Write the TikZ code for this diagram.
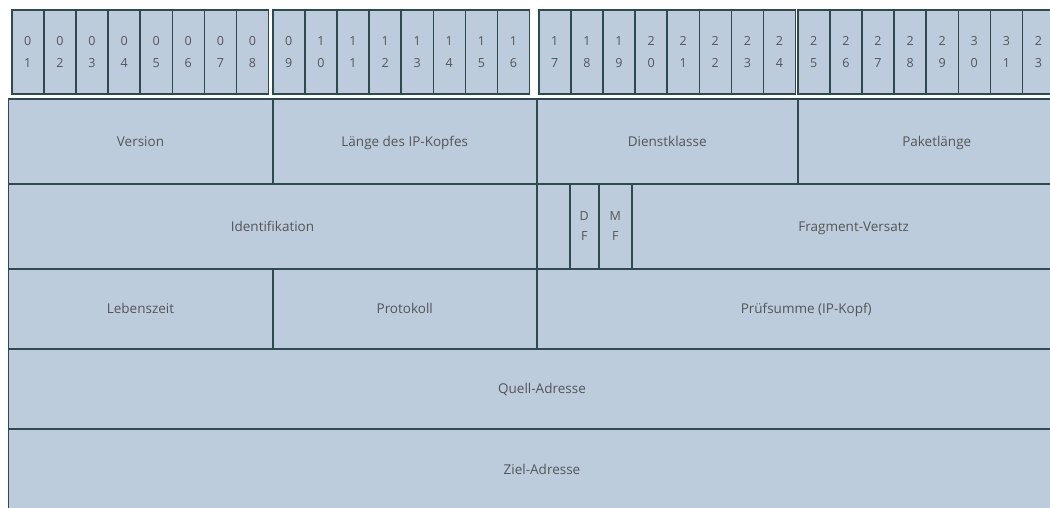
\documentclass[tikz,border=0pt]{standalone}
\usepackage{fontspec}
\setmainfont{Open Sans}
\definecolor{cellfill}{HTML}{BDCCDD}
\definecolor{rule}{HTML}{2E4A4F}
\definecolor{labeltext}{HTML}{555555}
\begin{document}
\begin{tikzpicture}[x=1pt,y=-1pt,
  cell/.style={draw=rule, fill=cellfill, line width=1.5pt, inner sep=0pt,
    anchor=north west, text=labeltext},
  field/.style={cell, font=\fontsize{13.5}{16}\selectfont,
    text height=10pt, text depth=0pt},
  bitbox/.style={cell, minimum width=32.1pt, minimum height=84pt, align=center,
    font=\fontsize{12.5}{22}\selectfont},
  flagbox/.style={cell, align=center, font=\fontsize{12.5}{20}\selectfont}]
\useasboundingbox (0,0) rectangle (1050,507);
\fill[white] (0,0) rectangle (1050,507);
\clip (0,0) rectangle (1050,507);

% bit numbers, four groups of eight
\foreach \g/\gx in {0/11, 1/272, 2/538, 3/797} {
  \foreach \i in {0,...,7} {
    \pgfmathtruncatemacro\n{\g*8+\i+1}
    \pgfmathtruncatemacro\tens{int(\n/10)}
    \pgfmathtruncatemacro\ones{mod(\n,10)}
    \ifnum\n=32
      \node[bitbox] (bit\n) at ({\gx+\i*32.1},9) {2\\3};
    \else
      \node[bitbox] (bit\n) at ({\gx+\i*32.1},9) {\tens\\\ones};
    \fi
  }
}

% row 1
\node[field, minimum width=264.5pt, minimum height=85pt] (version) at (7.5,98) {Version};
\node[field, minimum width=264pt, minimum height=85pt] (ihl) at (272,98) {Länge des IP-Kopfes};
\node[field, minimum width=261pt, minimum height=85pt] (tos) at (536,98) {Dienstklasse};
\node[field, minimum width=278pt, minimum height=85pt] (len) at (797,98) {Paketlänge};

% row 2
\node[field, minimum width=528.5pt, minimum height=85pt] (ident) at (7.5,183) {Identifikation};
\node[field, minimum width=33pt, minimum height=85pt] (reserved) at (536,183) {};
\node[flagbox, minimum width=29pt, minimum height=85pt] (df) at (569,183) {D\\F};
\node[flagbox, minimum width=33pt, minimum height=85pt] (mf) at (598,183) {M\\F};
\node[field, minimum width=444pt, minimum height=85pt] (frag) at (631,183) {Fragment-Versatz};

% row 3
\node[field, minimum width=264.5pt, minimum height=80pt] (ttl) at (7.5,268) {Lebenszeit};
\node[field, minimum width=264pt, minimum height=80pt] (proto) at (272,268) {Protokoll};
\node[field, minimum width=539pt, minimum height=80pt] (chk) at (536,268) {Prüfsumme (IP-Kopf)};

% rows 4 and 5
\node[field, minimum width=1067.5pt, minimum height=80pt] (src) at (7.5,348) {Quell-Adresse};
\node[field, minimum width=1067.5pt, minimum height=82pt] (dst) at (7.5,428) {Ziel-Adresse};
\end{tikzpicture}
\end{document}
